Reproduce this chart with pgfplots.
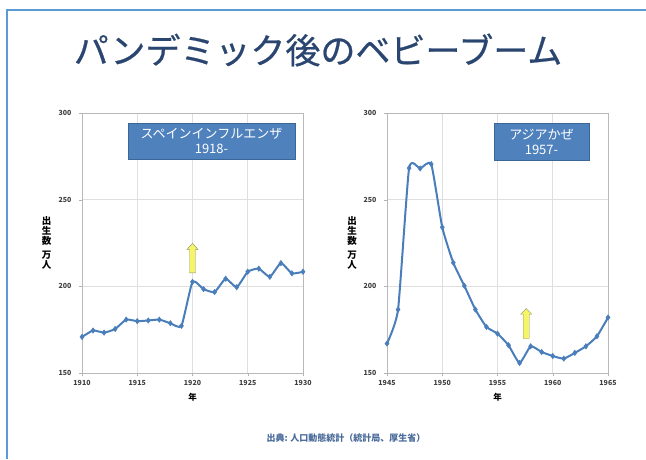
\documentclass[border=0pt]{standalone}
\usepackage{fontspec}
\setmainfont{Noto Sans CJK JP}
\newfontfamily\titlefont[FakeBold=0.6]{Noto Sans CJK JP}
\usepackage{pgfplots}
\pgfplotsset{compat=1.18}
\definecolor{linec}{HTML}{4A7EBB}
\definecolor{boxc}{HTML}{4F81BD}
\definecolor{boxe}{HTML}{3A6698}
\definecolor{framec}{HTML}{5B9BD5}
\definecolor{titlec}{HTML}{2A4670}
\definecolor{arrowc}{HTML}{F5F56A}
\definecolor{srcc}{HTML}{4A6A9A}
\pgfplotsset{mystyle/.style={
  scale only axis, width=221pt, height=260pt,
  ymin=150, ymax=300, ytick={150,200,250,300},
  grid=major, grid style={gray!25, line width=0.6pt},
  axis line style={gray!55}, tick style={gray!60},
  tick align=outside, major tick length=3pt,
  xtick pos=bottom, ytick pos=left,
  ticklabel style={font=\fontsize{7}{8}\selectfont\bfseries, text=black!75},
  yticklabel style={xshift=-4pt},
  xticklabel style={yshift=-1pt},
  /pgf/number format/assume math mode=true,
  /pgf/number format/1000 sep={},
  xlabel={年}, xlabel style={font=\fontsize{8.5}{9}\selectfont\bfseries, yshift=-1pt},
}}
\begin{document}
\begin{tikzpicture}
\path[use as bounding box] (0,0) rectangle (646pt,459pt);
\draw[framec, line width=1.3pt] (7pt,0) -- (7pt,449pt) -- (646pt,449pt);
\node[text=titlec, font=\titlefont\fontsize{35}{38}\selectfont] at (318pt,409pt) {パンデミック後のベビーブーム};

\begin{axis}[mystyle, at={(82pt,86pt)}, anchor=south west,
  xmin=1910, xmax=1930, xtick={1910,1915,...,1930}]
\addplot[linec, line width=2pt, smooth, tension=0.3, mark=diamond*, mark size=2.7pt, mark options={fill=linec, line width=0.5pt}] coordinates {
(1910,170.8) (1911,174.5) (1912,173.3) (1913,175.4) (1914,180.8) (1915,179.9)
(1916,180.3) (1917,180.8) (1918,178.7) (1919,177.2) (1920,202.6) (1921,198.4)
(1922,196.7) (1923,204.4) (1924,199.5) (1925,208.4) (1926,210.2) (1927,205.5)
(1928,213.4) (1929,207.5) (1930,208.4)};
\draw[fill=arrowc, draw=gray!70!olive, line width=0.4pt]
 (axis cs:1919.73,207.8) -- (axis cs:1919.73,221.3) -- (axis cs:1919.5,221.3) -- (axis cs:1920,224.8)
 -- (axis cs:1920.5,221.3) -- (axis cs:1920.27,221.3) -- (axis cs:1920.27,207.8) -- cycle;
\end{axis}

\begin{axis}[mystyle, at={(387pt,86pt)}, anchor=south west,
  xmin=1945, xmax=1965, xtick={1945,1950,...,1965}]
\addplot[linec, line width=2pt, smooth, tension=0.3, mark=diamond*, mark size=2.7pt, mark options={fill=linec, line width=0.5pt}] coordinates {
(1945,167.0) (1946,186.6) (1947,268.2) (1948,268.0) (1949,270.5) (1950,234.1)
(1951,213.6) (1952,200.3) (1953,186.6) (1954,176.6) (1955,172.7) (1956,166.0)
(1957,155.8) (1958,165.4) (1959,162.1) (1960,159.8) (1961,158.3) (1962,161.6)
(1963,165.4) (1964,171.2) (1965,182.0)};
\draw[fill=arrowc, draw=gray!70!olive, line width=0.4pt]
 (axis cs:1957.33,169.9) -- (axis cs:1957.33,183.9) -- (axis cs:1957.1,183.9) -- (axis cs:1957.6,187.2)
 -- (axis cs:1958.1,183.9) -- (axis cs:1957.87,183.9) -- (axis cs:1957.87,169.9) -- cycle;
\end{axis}

\node[fill=boxc, draw=boxe, line width=0.5pt, minimum width=167pt, minimum height=36pt, inner sep=0pt,
  text=white, align=center, font=\fontsize{13}{15}\selectfont] at (211.5pt,318pt) {スペインインフルエンザ\\1918-};
\node[fill=boxc, draw=boxe, line width=0.5pt, minimum width=95pt, minimum height=37pt, inner sep=0pt,
  text=white, align=center, font=\fontsize{13}{15}\selectfont] at (541.5pt,317.5pt) {アジアかぜ\\1957-};

\node[font=\fontsize{9.5}{11}\selectfont\bfseries, align=center, inner sep=0pt] at (46.5pt,216pt) {出\\[-1pt]生\\[-1pt]数\\[3pt]万\\[-1pt]人};
\node[font=\fontsize{9.5}{11}\selectfont\bfseries, align=center, inner sep=0pt] at (352pt,216pt) {出\\[-1pt]生\\[-1pt]数\\[3pt]万\\[-1pt]人};

\node[text=srcc, font=\fontsize{9}{10}\selectfont\bfseries] at (346pt,21pt) {出典: 人口動態統計（統計局、厚生省）};
\end{tikzpicture}
\end{document}
